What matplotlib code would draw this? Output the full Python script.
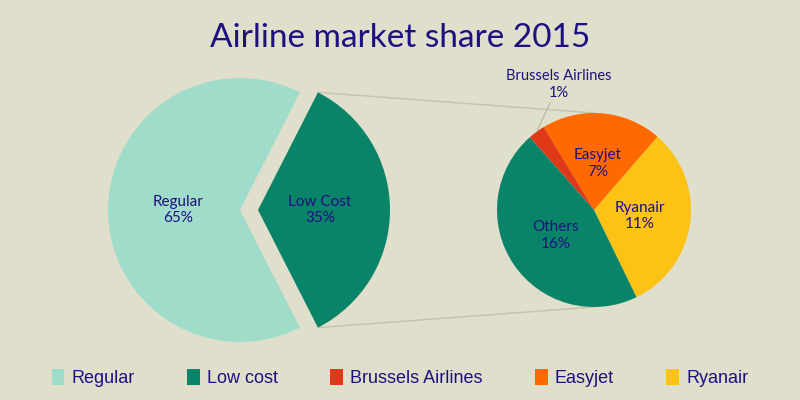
import numpy as np
import matplotlib.pyplot as plt
from matplotlib.patches import Patch

# main split
main_labels = ["Regular", "Low Cost"]
main_values = [65, 35]
main_colors = ["#A0DCCA", "#0A8468"]

# breakdown of low cost
sub_labels = ["Ryanair", "Easyjet", "Brussels Airlines", "Others"]
sub_values = [11, 7, 1, 16]
sub_colors = ["#FCC214", "#FF6A00", "#E0391A", "#0A8468"]

legend_labels = ["Regular", "Low cost", "Brussels Airlines", "Easyjet", "Ryanair"]
legend_colors = ["#A0DCCA", "#0A8468", "#E0391A", "#FF6A00", "#FCC214"]

bg = "#E0DFCB"
navy = "#1E0F82"

fig = plt.figure(figsize=(8, 4), dpi=100, facecolor=bg)
ax = fig.add_axes([0, 0, 1, 1])

# left pie, low cost pulled out
w1, t1 = ax.pie(main_values, colors=main_colors, center=(240, 190), radius=132,
                startangle=63, explode=[0, 18], frame=True,
                labels=[f"{n}\n{v}%" for n, v in zip(main_labels, main_values)],
                labeldistance=0.47,
                textprops=dict(color=navy, fontsize=11, family="Lato"))
for t in t1:
    t.set_ha("center")
    t.set_va("center")
    t.set_linespacing(1.25)

# right pie
sub_text = [f"{n}\n{v}%" if n != "Brussels Airlines" else "" for n, v in zip(sub_labels, sub_values)]
w2, t2 = ax.pie(sub_values, colors=sub_colors, center=(594, 190), radius=97,
                startangle=-64, labels=sub_text, labeldistance=0.48,
                wedgeprops=dict(linewidth=0),
                textprops=dict(color=navy, fontsize=11, family="Lato"))
for t in t2:
    t.set_ha("center")
    t.set_va("center")
    t.set_linespacing(1.25)
ax.set_xlim(0, 800)
ax.set_ylim(0, 400)
ax.set_aspect("equal")
ax.axis("off")

# Brussels label with leader line
bw = w2[sub_labels.index("Brussels Airlines")]
mid = np.deg2rad((bw.theta1 + bw.theta2) / 2)
px = bw.center[0] + bw.r * np.cos(mid)
py = bw.center[1] + bw.r * np.sin(mid)
ax.annotate("Brussels Airlines\n1%", xy=(px, py), xytext=(px + 22, py + 32),
            ha="center", va="bottom", color=navy, fontsize=10.5, family="Lato",
            linespacing=1.25,
            arrowprops=dict(arrowstyle="-", color="#B8B5A0", lw=0.8, shrinkA=0, shrinkB=0))

# connecting lines from low cost wedge to right pie
lw = w1[1]
cx, cy = lw.center
rc = w2[0].center
rr = w2[0].r
for ang, yy in [(lw.theta2, rc[1] + rr), (lw.theta1, rc[1] - rr)]:
    a = np.deg2rad(ang)
    ax.plot([cx + lw.r * np.cos(a), rc[0]], [cy + lw.r * np.sin(a), yy],
            color="#C4C1AC", lw=1, zorder=0)

fig.text(0.5, 0.905, "Airline market share 2015", ha="center", va="center",
         fontsize=24, color=navy, family="Lato")

handles = [Patch(facecolor=c, edgecolor="none") for c in legend_colors]
fig.legend(handles, legend_labels, loc="center", bbox_to_anchor=(0.5, 0.055), ncol=5,
           frameon=False, labelcolor=navy, handlelength=0.7,
           handleheight=1.0, handletextpad=0.4, columnspacing=2.9,
           prop=dict(family="Liberation Sans", size=13))

fig.savefig("out.png", dpi=100, facecolor=bg)
